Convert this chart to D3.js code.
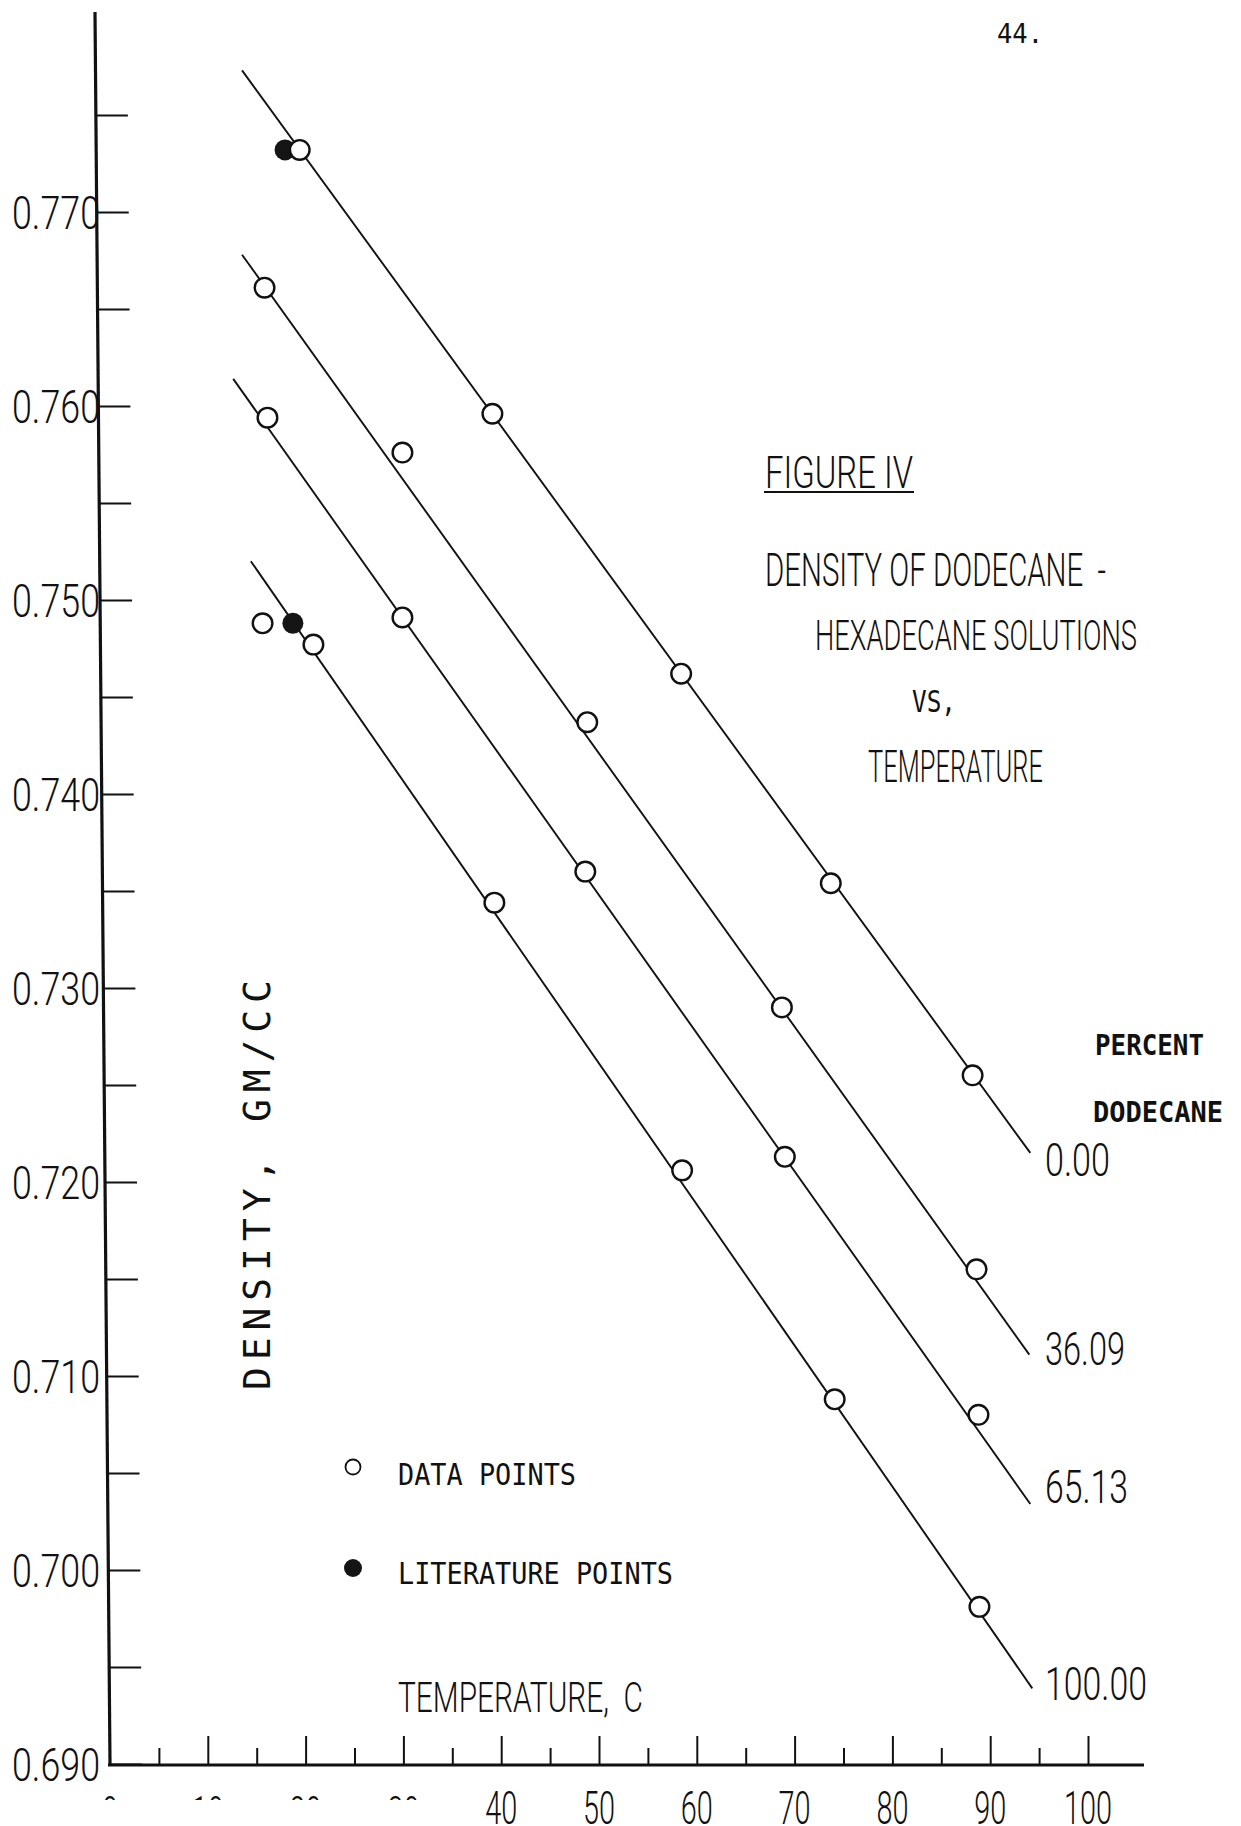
<!DOCTYPE html>
<html>
<head>
<meta charset="utf-8">
<title>Figure IV - Density of Dodecane - Hexadecane Solutions vs. Temperature</title>
<script src="https://cdn.jsdelivr.net/npm/d3@7"></script>
<style>
  html, body { margin: 0; padding: 0; background: #fff; }
  svg { display: block; }
  .letter { font-family: Roboto, "DejaVu Sans", sans-serif; font-weight: 300; fill: #111; }
  .type { font-family: "DejaVu Sans Mono", "Liberation Mono", monospace; fill: #111; }
</style>
</head>
<body>
<svg id="chart" width="1241" height="1826"></svg>
<script>
// ---- axis ticks ----
const tempTicks = [5, 10, 15, 20, 25, 30, 35, 40, 45, 50, 55, 60, 65, 70, 75, 80, 85, 90, 95, 100];
const tempLabels = [0, 10, 20, 30, 40, 50, 60, 70, 80, 90, 100];
const densityTicks = [0.690, 0.695, 0.700, 0.705, 0.710, 0.715, 0.720, 0.725, 0.730,
                      0.735, 0.740, 0.745, 0.750, 0.755, 0.760, 0.765, 0.770, 0.775];
const densityLabels = [0.690, 0.700, 0.710, 0.720, 0.730, 0.740, 0.750, 0.760, 0.770];

// ---- measured densities (gm/cc) at temperature (C), by percent dodecane ----
const percentLabels = ["0.00", "36.09", "65.13", "100.00"];

const temp000 = [19.4, 39.1, 58.4, 73.7, 88.2];
const dens000 = [0.7732, 0.7596, 0.7462, 0.7354, 0.7255];

const temp3609 = [15.8, 29.9, 48.8, 68.7, 88.6];
const dens3609 = [0.7661, 0.7576, 0.7437, 0.7290, 0.7155];

const temp6513 = [16.1, 29.9, 48.6, 69.0, 88.8];
const dens6513 = [0.7594, 0.7491, 0.7360, 0.7213, 0.7080];

const temp10000 = [15.6, 20.8, 39.3, 58.5, 74.1, 88.9];
const dens10000 = [0.7488, 0.7477, 0.7344, 0.7206, 0.7088, 0.6981];

// literature values (pure hexadecane, pure dodecane)
const litTemp = [17.9, 18.7];
const litDens = [0.7732, 0.7488];

// fitted straight lines, end points
const lineTemp000 = [13.5, 94.1];
const lineDens000 = [0.7773, 0.7215];
const lineTemp3609 = [13.5, 94.0];
const lineDens3609 = [0.7678, 0.7111];
const lineTemp6513 = [12.6, 94.1];
const lineDens6513 = [0.7614, 0.7034];
const lineTemp10000 = [14.4, 94.3];
const lineDens10000 = [0.7520, 0.6939];

const series = [
  { label: percentLabels[0], temps: temp000,   dens: dens000,   lt: lineTemp000,   ld: lineDens000 },
  { label: percentLabels[1], temps: temp3609,  dens: dens3609,  lt: lineTemp3609,  ld: lineDens3609 },
  { label: percentLabels[2], temps: temp6513,  dens: dens6513,  lt: lineTemp6513,  ld: lineDens6513 },
  { label: percentLabels[3], temps: temp10000, dens: dens10000, lt: lineTemp10000, ld: lineDens10000 }
];

// ---- layout ----
const labelDy = [23, 10, -1, 12];       // baseline offset of each percent label from its line end
const labelWidth = [65, 80, 83, 102];

const svg = d3.select("#chart");
const x = d3.scaleLinear().domain([0, 100]).range([110, 1088]);
const y = d3.scaleLinear().domain([0.690, 0.770]).range([1764, 212]);
const axisY = y(0.690);

// ---- density axis (hand-ruled, leans slightly) ----
const lean = 15 / 1752;
const yAxisG = svg.append("g")
  .attr("transform", `translate(${-lean * axisY},0) skewX(${Math.atan(lean) * 180 / Math.PI})`);

yAxisG.append("line")
  .attr("x1", x(0)).attr("x2", x(0))
  .attr("y1", 12).attr("y2", axisY + 1)
  .attr("stroke", "#111").attr("stroke-width", 3.2);

const yTicks = yAxisG.append("g")
  .attr("transform", `translate(${x(0)},0)`)
  .call(d3.axisRight(y).tickValues(densityTicks).tickSize(32).tickFormat(""));
yTicks.select(".domain").remove();
yTicks.selectAll(".tick line").attr("stroke", "#111").attr("stroke-width", 1.8);

svg.append("g").selectAll("text")
  .data(densityLabels)
  .join("text")
  .attr("class", "letter")
  .attr("x", 100)
  .attr("y", d => y(d) + 17)
  .attr("text-anchor", "end")
  .attr("font-size", 47)
  .attr("font-weight", 400)
  .attr("textLength", 88)
  .attr("lengthAdjust", "spacingAndGlyphs")
  .text(d => d.toFixed(3));

// ---- temperature axis ----
svg.append("line")
  .attr("x1", x(0) - 2).attr("x2", 1144)
  .attr("y1", axisY + 1).attr("y2", axisY + 1)
  .attr("stroke", "#111").attr("stroke-width", 3);

const xMinor = svg.append("g")
  .attr("transform", `translate(0,${axisY})`)
  .call(d3.axisTop(x).tickValues(tempTicks.filter(t => t % 10 !== 0)).tickSize(16).tickFormat(""));
const xMajor = svg.append("g")
  .attr("transform", `translate(0,${axisY})`)
  .call(d3.axisTop(x).tickValues(tempTicks.filter(t => t % 10 === 0)).tickSize(28).tickFormat(""));
[xMinor, xMajor].forEach(g => {
  g.select(".domain").remove();
  g.selectAll(".tick line").attr("stroke", "#111").attr("stroke-width", 2);
});

// the low labels run off the bottom edge of the sheet
svg.append("defs").append("clipPath").attr("id", "sheetEdge")
  .append("rect").attr("x", 0).attr("y", 0).attr("width", 470).attr("height", 1800);

svg.append("g").selectAll("text")
  .data(tempLabels)
  .join("text")
  .attr("class", "letter")
  .attr("x", d => x(d))
  .attr("y", d => d < 40 ? 1829 : 1824)
  .attr("clip-path", d => d < 40 ? "url(#sheetEdge)" : null)
  .attr("text-anchor", "middle")
  .attr("font-size", 46)
  .attr("textLength", d => String(d).length * 16)
  .attr("lengthAdjust", "spacingAndGlyphs")
  .text(d => d);

// ---- fitted lines ----
const line = d3.line().x(d => x(d[0])).y(d => y(d[1]));
svg.append("g").selectAll("path")
  .data(series)
  .join("path")
  .attr("d", s => line(d3.zip(s.lt, s.ld)))
  .attr("fill", "none")
  .attr("stroke", "#111")
  .attr("stroke-width", 1.9);

// ---- literature points ----
svg.append("g").selectAll("circle")
  .data(d3.zip(litTemp, litDens))
  .join("circle")
  .attr("cx", d => x(d[0]))
  .attr("cy", d => y(d[1]))
  .attr("r", 10.5)
  .attr("fill", "#151515");

// ---- data points ----
svg.append("g").selectAll("g")
  .data(series)
  .join("g")
  .selectAll("circle")
  .data(s => d3.zip(s.temps, s.dens))
  .join("circle")
  .attr("cx", d => x(d[0]))
  .attr("cy", d => y(d[1]))
  .attr("r", 9.8)
  .attr("fill", "#fff")
  .attr("stroke", "#111")
  .attr("stroke-width", 2.4);

// ---- percent dodecane labels ----
svg.append("g").selectAll("text")
  .data(series)
  .join("text")
  .attr("class", "letter")
  .attr("x", 1045)
  .attr("y", (s, i) => y(s.ld[1]) + labelDy[i])
  .attr("font-size", 46)
  .attr("textLength", (s, i) => labelWidth[i])
  .attr("lengthAdjust", "spacingAndGlyphs")
  .text(s => s.label);

const typeText = (txt, tx, ty, size, len, weight) =>
  svg.append("text").attr("class", "type")
    .attr("x", tx).attr("y", ty)
    .attr("font-size", size)
    .attr("font-weight", weight || "normal")
    .attr("textLength", len).attr("lengthAdjust", "spacingAndGlyphs")
    .text(txt);

const letterText = (txt, tx, ty, size, len) =>
  svg.append("text").attr("class", "letter")
    .attr("x", tx).attr("y", ty)
    .attr("font-size", size)
    .attr("textLength", len).attr("lengthAdjust", "spacingAndGlyphs")
    .text(txt);

typeText("PERCENT", 1095, 1055, 29, 109, "bold");
typeText("DODECANE", 1093, 1122, 29, 130, "bold");

// ---- page number ----
typeText("44.", 997, 43, 27, 46);

// ---- title block ----
letterText("FIGURE IV", 765, 488, 44, 148);
svg.append("line")
  .attr("x1", 764).attr("x2", 914).attr("y1", 492).attr("y2", 492)
  .attr("stroke", "#111").attr("stroke-width", 2.2);
letterText("DENSITY OF DODECANE \u00a0-", 765, 586, 46, 341);
letterText("HEXADECANE SOLUTIONS", 815, 650, 43, 322);
typeText("VS,", 912, 712, 30, 44);
letterText("TEMPERATURE", 868, 782, 45, 175);

// ---- axis titles ----
svg.append("text").attr("class", "type")
  .attr("transform", "translate(270,1185) rotate(-90)")
  .attr("text-anchor", "middle")
  .attr("font-size", 38)
  .attr("textLength", 410).attr("lengthAdjust", "spacing")
  .text("DENSITY,\u00a0GM/CC");

letterText("TEMPERATURE,\u00a0\u00a0C", 398, 1712, 42, 245);

// ---- legend ----
svg.append("circle").attr("cx", 353).attr("cy", 1467).attr("r", 7.5)
  .attr("fill", "#fff").attr("stroke", "#111").attr("stroke-width", 1.8);
typeText("DATA POINTS", 398, 1485, 30, 178);
svg.append("circle").attr("cx", 353).attr("cy", 1568).attr("r", 9).attr("fill", "#151515");
typeText("LITERATURE POINTS", 398, 1584, 30, 275);
</script>
</body>
</html>
